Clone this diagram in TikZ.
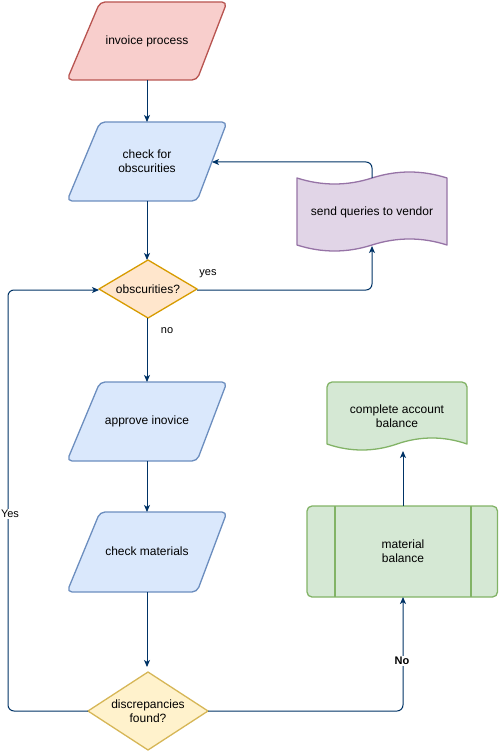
\documentclass[tikz,border=0pt]{standalone}
\usepackage{fontspec}
\setmainfont{Liberation Sans}
\usetikzlibrary{arrows.meta}
\definecolor{redf}{HTML}{F8CECC}\definecolor{reds}{HTML}{B85450}
\definecolor{bluef}{HTML}{DAE8FC}\definecolor{blues}{HTML}{6C8EBF}
\definecolor{purf}{HTML}{E1D5E7}\definecolor{purs}{HTML}{9673A6}
\definecolor{orf}{HTML}{FFE6CC}\definecolor{ors}{HTML}{D79B00}
\definecolor{yelf}{HTML}{FFF2CC}\definecolor{yels}{HTML}{D6B656}
\definecolor{grf}{HTML}{D5E8D4}\definecolor{grs}{HTML}{82B366}
\definecolor{conn}{HTML}{003366}
\begin{document}
\begin{tikzpicture}[x=1pt,y=-1pt,
  shp/.style={line width=1.3pt,line join=round},
  txt/.style={align=center,font=\fontsize{12}{14.5}\selectfont,inner sep=0pt},
  lbl/.style={font=\fontsize{11}{13}\selectfont,inner sep=1pt},
  arr/.style={draw=conn,line width=1pt,-{Stealth[length=7pt,width=6pt,inset=1.8pt]},rounded corners=6pt},
  ln/.style={draw=conn,line width=1pt,rounded corners=6pt}]
\useasboundingbox (0,0) rectangle (499,751);
% shapes
\draw[shp,draw=reds,fill=redf,rounded corners=5pt] (163,2) -- (227,2) -- (197,80) -- (67,80) -- (100,2) -- cycle;
\draw[shp,draw=blues,fill=bluef,rounded corners=5pt] (163,122) -- (227,122) -- (197,201) -- (67,201) -- (100,122) -- cycle;
\draw[shp,draw=blues,fill=bluef,rounded corners=5pt] (163,382) -- (227,382) -- (197,461) -- (67,461) -- (100,382) -- cycle;
\draw[shp,draw=blues,fill=bluef,rounded corners=5pt] (163,512) -- (227,512) -- (197,592) -- (67,592) -- (100,512) -- cycle;
\draw[shp,draw=ors,fill=orf] (148,260) -- (197,289) -- (148,318) -- (99,289) -- cycle;
\draw[shp,draw=yels,fill=yelf] (148,672) -- (208,711) -- (148,750) -- (88,711) -- cycle;
\draw[shp,draw=purs,fill=purf] (297,178) .. controls (322,186) and (347,186) .. (372,178) .. controls (397,170) and (422,170) .. (447,178) -- (447,245) .. controls (422,237) and (397,237) .. (372,245) .. controls (347,253) and (322,253) .. (297,245) -- cycle;
\draw[shp,draw=grs,fill=grf] (327,444) [rounded corners=5pt] -- (327,382) -- (467,382) [sharp corners] -- (467,444) .. controls (444,436) and (420,436) .. (397,444) .. controls (374,452) and (350,452) .. (327,444) -- cycle;
\draw[shp,draw=grs,fill=grf,rounded corners=5pt] (307,506) rectangle (497.5,597);
\draw[shp,draw=grs] (335,506) -- (335,597) (471,506) -- (471,597);
% text nodes
\node[txt] (inv) at (147,41) {invoice process};
\node[txt] (chk) at (147,161) {check for\\obscurities};
\node[txt] (obs) at (148,289) {obscurities?};
\node[txt] (apr) at (147,421) {approve inovice};
\node[txt] (mat) at (147,551) {check materials};
\node[txt] (dis) at (148,711) {discrepancies\\found?};
\node[txt] (snd) at (372,212) {send queries to vendor};
\node[txt] (cab) at (397,416) {complete account\\balance};
\node[txt] (mbl) at (403,551) {material\\balance};
% connection points
\coordinate (inv-s) at (147,80);
\coordinate (chk-n) at (147,122);
\coordinate (chk-s) at (147,201);
\coordinate (chk-e) at (212,162);
\coordinate (obs-n) at (147,260);
\coordinate (obs-s) at (147,318);
\coordinate (obs-e) at (197,290);
\coordinate (obs-w) at (99,290);
\coordinate (apr-n) at (147,382);
\coordinate (apr-s) at (147,461);
\coordinate (mat-n) at (147,512);
\coordinate (mat-s) at (147,592);
\coordinate (dis-n) at (147,667);
\coordinate (dis-w) at (88,711);
\coordinate (dis-e) at (208,711);
\coordinate (snd-n) at (372,178);
\coordinate (snd-s) at (372,246);
\coordinate (cab-s) at (403,451);
\coordinate (mbl-n) at (403,506);
\coordinate (mbl-s) at (403,597);
\coordinate (yesx) at (8,711);
% connectors
\draw[arr] (inv-s) -- (chk-n);
\draw[arr] (chk-s) -- (obs-n);
\draw[arr] (obs-s) -- (apr-n);
\draw[arr] (apr-s) -- (mat-n);
\draw[arr] (mat-s) -- (dis-n);
\draw[arr] (obs-e) -| (snd-s);
\draw[arr] (snd-n) |- (chk-e);
\draw[arr] (mbl-n) -- (cab-s);
\draw[arr] (dis-w) -- (yesx) |- (obs-w);
\draw[arr] (dis-e) -| (mbl-s);
% labels
\node[lbl] (lyes) at (208,274) {yes};
\node[lbl] (lno) at (167,331) {no};
\node[lbl,fill=white] (lYes) at (10,514) {Yes};
\node[lbl,fill=white,font=\fontsize{11}{13}\selectfont\bfseries] (lNo) at (402,661) {No};
\end{tikzpicture}
\end{document}
